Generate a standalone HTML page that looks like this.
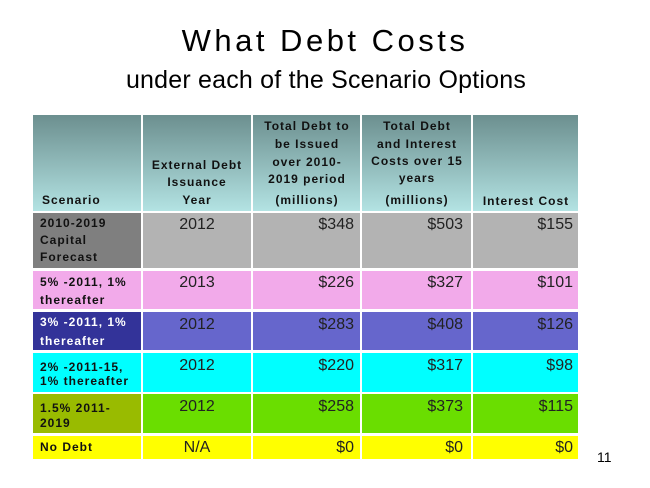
<!DOCTYPE html>
<html><head><meta charset="utf-8"><style>
html,body{margin:0;padding:0;background:#fff;}
#s{position:relative;width:650px;height:488px;overflow:hidden;font-family:"Liberation Sans",Arial,sans-serif;}
.c{position:absolute;}
.h{background:linear-gradient(#6c8f8f,#b3e3e3);}
.t{position:absolute;white-space:nowrap;font-size:12px;line-height:14px;font-weight:bold;letter-spacing:1px;color:#111;}
.ctr{transform:translateX(-50%);}
.v{position:absolute;white-space:nowrap;font-size:16px;line-height:18px;color:#222;}
.r{transform:translateX(-100%);}
</style></head><body><div id="s">
<div class="c" style="left:0;top:23px;width:650px;text-align:center;font-size:31px;line-height:36px;letter-spacing:3.5px;color:#000;white-space:nowrap;">What Debt Costs</div>
<div class="c" style="left:0;top:64.6px;width:652px;text-align:center;font-size:25px;line-height:30px;letter-spacing:0.2px;color:#000;white-space:nowrap;">under each of the Scenario Options</div>

<!-- header -->
<div class="c h" style="left:33px;top:115px;width:108px;height:96px;"></div>
<div class="c h" style="left:143px;top:115px;width:108px;height:96px;"></div>
<div class="c h" style="left:253px;top:115px;width:107px;height:96px;"></div>
<div class="c h" style="left:362px;top:115px;width:109px;height:96px;"></div>
<div class="c h" style="left:473px;top:115px;width:105px;height:96px;"></div>

<!-- rows -->
<div class="c" style="left:33px;top:213px;width:108px;height:55px;background:#7f7f7f;"></div>
<div class="c" style="left:143px;top:213px;width:108px;height:55px;background:#b3b3b3;"></div>
<div class="c" style="left:253px;top:213px;width:107px;height:55px;background:#b3b3b3;"></div>
<div class="c" style="left:362px;top:213px;width:109px;height:55px;background:#b3b3b3;"></div>
<div class="c" style="left:473px;top:213px;width:105px;height:55px;background:#b3b3b3;"></div>

<div class="c" style="left:33px;top:271px;width:108px;height:38px;background:#f2aaea;"></div>
<div class="c" style="left:143px;top:271px;width:108px;height:38px;background:#f2aaea;"></div>
<div class="c" style="left:253px;top:271px;width:107px;height:38px;background:#f2aaea;"></div>
<div class="c" style="left:362px;top:271px;width:109px;height:38px;background:#f2aaea;"></div>
<div class="c" style="left:473px;top:271px;width:105px;height:38px;background:#f2aaea;"></div>

<div class="c" style="left:33px;top:312px;width:108px;height:38px;background:#333399;"></div>
<div class="c" style="left:143px;top:312px;width:108px;height:38px;background:#6666cc;"></div>
<div class="c" style="left:253px;top:312px;width:107px;height:38px;background:#6666cc;"></div>
<div class="c" style="left:362px;top:312px;width:109px;height:38px;background:#6666cc;"></div>
<div class="c" style="left:473px;top:312px;width:105px;height:38px;background:#6666cc;"></div>

<div class="c" style="left:33px;top:353px;width:108px;height:39px;background:#00ffff;"></div>
<div class="c" style="left:143px;top:353px;width:108px;height:39px;background:#00ffff;"></div>
<div class="c" style="left:253px;top:353px;width:107px;height:39px;background:#00ffff;"></div>
<div class="c" style="left:362px;top:353px;width:109px;height:39px;background:#00ffff;"></div>
<div class="c" style="left:473px;top:353px;width:105px;height:39px;background:#00ffff;"></div>

<div class="c" style="left:33px;top:394px;width:108px;height:39px;background:#99bb00;"></div>
<div class="c" style="left:143px;top:394px;width:108px;height:39px;background:#6ade00;"></div>
<div class="c" style="left:253px;top:394px;width:107px;height:39px;background:#6ade00;"></div>
<div class="c" style="left:362px;top:394px;width:109px;height:39px;background:#6ade00;"></div>
<div class="c" style="left:473px;top:394px;width:105px;height:39px;background:#6ade00;"></div>

<div class="c" style="left:33px;top:436px;width:108px;height:23px;background:#ffff00;"></div>
<div class="c" style="left:143px;top:436px;width:108px;height:23px;background:#ffff00;"></div>
<div class="c" style="left:253px;top:436px;width:107px;height:23px;background:#ffff00;"></div>
<div class="c" style="left:362px;top:436px;width:109px;height:23px;background:#ffff00;"></div>
<div class="c" style="left:473px;top:436px;width:105px;height:23px;background:#ffff00;"></div>

<!-- header text -->
<div class="t" style="left:42px;top:193px;">Scenario</div>
<div class="t ctr" style="left:197px;top:158px;">External Debt</div>
<div class="t ctr" style="left:197px;top:174.5px;">Issuance</div>
<div class="t ctr" style="left:197px;top:193px;">Year</div>
<div class="t ctr" style="left:307px;top:118.5px;">Total Debt to</div>
<div class="t ctr" style="left:307px;top:137px;">be Issued</div>
<div class="t ctr" style="left:307px;top:154.5px;">over 2010-</div>
<div class="t ctr" style="left:307px;top:172px;">2019 period</div>
<div class="t ctr" style="left:307px;top:193px;">(millions)</div>
<div class="t ctr" style="left:417px;top:118.5px;">Total Debt</div>
<div class="t ctr" style="left:417px;top:136.5px;">and Interest</div>
<div class="t ctr" style="left:417px;top:153.5px;">Costs over 15</div>
<div class="t ctr" style="left:417px;top:171px;">years</div>
<div class="t ctr" style="left:417px;top:193px;">(millions)</div>
<div class="t ctr" style="left:526px;top:194px;">Interest Cost</div>

<!-- col1 text -->
<div class="t" style="left:40px;top:216px;">2010-2019</div>
<div class="t" style="left:40px;top:233px;">Capital</div>
<div class="t" style="left:40px;top:250px;">Forecast</div>
<div class="t" style="left:40px;top:274.5px;">5% -2011, 1%</div>
<div class="t" style="left:40px;top:293px;">thereafter</div>
<div class="t" style="left:40px;top:315px;color:#fff;">3% -2011, 1%</div>
<div class="t" style="left:40px;top:333.5px;color:#fff;">thereafter</div>
<div class="t" style="left:40px;top:359.5px;">2% -2011-15,</div>
<div class="t" style="left:40px;top:374px;">1% thereafter</div>
<div class="t" style="left:40px;top:401px;">1.5% 2011-</div>
<div class="t" style="left:40px;top:415.5px;">2019</div>
<div class="t" style="left:40px;top:440px;">No Debt</div>

<!-- values -->
<div class="v ctr" style="left:197px;top:215.5px;">2012</div>
<div class="v r" style="left:354px;top:215.5px;">$348</div>
<div class="v r" style="left:463px;top:215.5px;">$503</div>
<div class="v r" style="left:573px;top:215.5px;">$155</div>

<div class="v ctr" style="left:197px;top:274px;">2013</div>
<div class="v r" style="left:354px;top:274px;">$226</div>
<div class="v r" style="left:463px;top:274px;">$327</div>
<div class="v r" style="left:573px;top:274px;">$101</div>

<div class="v ctr" style="left:197px;top:315.5px;">2012</div>
<div class="v r" style="left:354px;top:315.5px;">$283</div>
<div class="v r" style="left:463px;top:315.5px;">$408</div>
<div class="v r" style="left:573px;top:315.5px;">$126</div>

<div class="v ctr" style="left:197px;top:356.5px;">2012</div>
<div class="v r" style="left:354px;top:356.5px;">$220</div>
<div class="v r" style="left:463px;top:356.5px;">$317</div>
<div class="v r" style="left:573px;top:356.5px;">$98</div>

<div class="v ctr" style="left:197px;top:398px;">2012</div>
<div class="v r" style="left:354px;top:398px;">$258</div>
<div class="v r" style="left:463px;top:398px;">$373</div>
<div class="v r" style="left:573px;top:398px;">$115</div>

<div class="v ctr" style="left:197px;top:439px;">N/A</div>
<div class="v r" style="left:354px;top:439px;">$0</div>
<div class="v r" style="left:463px;top:439px;">$0</div>
<div class="v r" style="left:573px;top:439px;">$0</div>

<div class="c" style="left:597px;top:449px;font-size:14px;line-height:16px;color:#000;">11</div>
</div></body></html>
